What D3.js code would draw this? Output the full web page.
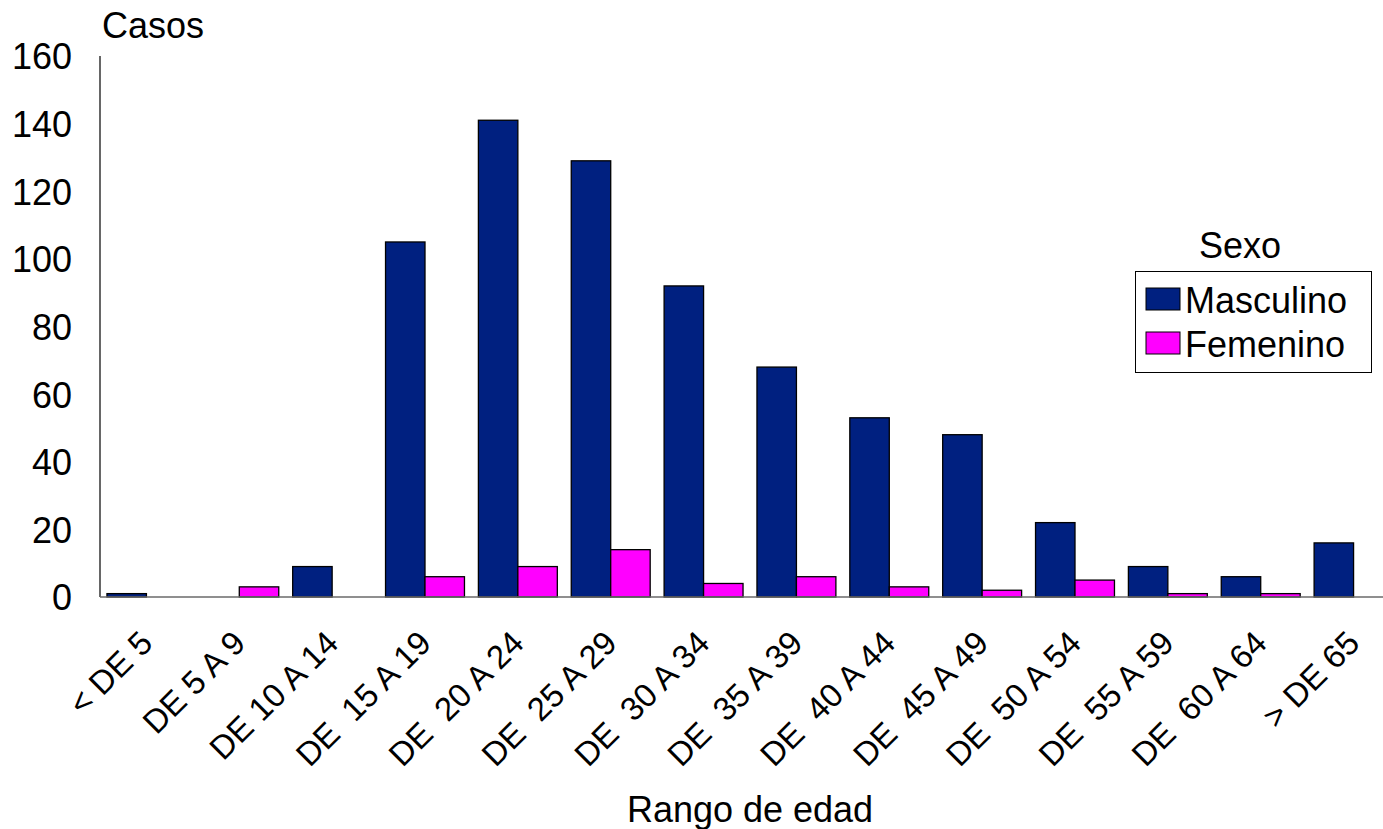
<!DOCTYPE html>
<html>
<head>
<meta charset="utf-8">
<script src="https://cdn.jsdelivr.net/npm/d3@7"></script>
<style>
  html, body { margin: 0; padding: 0; background: #fff; }
  svg { display: block; }
  text { font-family: "Liberation Sans", Arial, sans-serif; fill: #000; }
</style>
</head>
<body>
<svg id="chart" width="1383" height="829"></svg>
<script>
const categories = ["< DE 5", "DE 5 A 9", "DE 10 A 14", "DE  15 A 19", "DE  20 A 24", "DE  25 A 29",
  "DE  30 A 34", "DE  35 A 39", "DE  40 A 44", "DE  45 A 49", "DE  50 A 54", "DE  55 A 59",
  "DE  60 A 64", "> DE 65"];
const seriesNames = ["Masculino", "Femenino"];
const masculino = [1, 0, 9, 105, 141, 129, 92, 68, 53, 48, 22, 9, 6, 16];
const femenino  = [0, 3, 0, 6, 9, 14, 4, 6, 3, 2, 5, 1, 1, 0];
const yTicks = [0, 20, 40, 60, 80, 100, 120, 140, 160];
const colors = ["#002080", "#FF00FF"];

const svg = d3.select("#chart");
const plot = { left: 100, right: 1400, top: 56, bottom: 597 };

const x = d3.scaleBand().domain(categories).range([plot.left, plot.right])
  .paddingInner(0.15).paddingOuter(0.075);
const xs = d3.scaleBand().domain(seriesNames).range([0, x.bandwidth()]).padding(0);
const y = d3.scaleLinear().domain([0, 160]).range([plot.bottom, plot.top]);

const values = [masculino, femenino];

// bars
seriesNames.forEach((s, si) => {
  svg.append("g").selectAll("rect")
    .data(categories.map((c, i) => ({ c, v: values[si][i] })).filter(d => d.v > 0))
    .join("rect")
    .attr("x", d => x(d.c) + xs(s))
    .attr("y", d => y(d.v))
    .attr("width", xs.bandwidth())
    .attr("height", d => y(0) - y(d.v))
    .attr("fill", colors[si])
    .attr("stroke", "#000")
    .attr("stroke-width", 1.3);
});

// y axis
const yAxis = d3.axisLeft(y).tickValues(yTicks).tickSize(0).tickPadding(0).tickFormat(d3.format("d"));
const gy = svg.append("g").attr("transform", `translate(${plot.left},0)`).call(yAxis);
gy.select(".domain").attr("stroke", "#000").attr("stroke-width", 1.2)
  .attr("d", `M0,${plot.top}V${plot.bottom}`);
gy.selectAll("text").attr("font-size", 36).attr("x", -28).attr("dy", "0.36em")
  .attr("text-anchor", "end").style("font-family", '"Liberation Sans", Arial, sans-serif');

// x axis baseline
svg.append("line").attr("x1", plot.left).attr("x2", 1383)
  .attr("y1", y(0)).attr("y2", y(0)).attr("stroke", "#6a6a6a").attr("stroke-width", 1.5);

// x labels rotated
const gx = svg.append("g");
gx.selectAll("text").data(categories).join("text")
  .attr("transform", d => `translate(${x(d) + x.bandwidth() / 2 + 8},645) rotate(-45)`)
  .attr("text-anchor", "end")
  .attr("font-size", 33)
  .style("white-space", "pre")
  .attr("xml:space", "preserve")
  .text(d => d);

// titles
svg.append("text").attr("x", 102).attr("y", 38).attr("font-size", 36).text("Casos");
svg.append("text").attr("x", 750).attr("y", 822).attr("text-anchor", "middle")
  .attr("font-size", 36).text("Rango de edad");

// legend
const lg = svg.append("g");
lg.append("text").attr("x", 1240).attr("y", 258).attr("text-anchor", "middle")
  .attr("font-size", 36).text("Sexo");
lg.append("rect").attr("x", 1135.5).attr("y", 271.5).attr("width", 236).attr("height", 101)
  .attr("fill", "#fff").attr("stroke", "#000").attr("stroke-width", 1);
seriesNames.forEach((s, i) => {
  lg.append("rect").attr("x", 1146).attr("y", 288 + i * 44).attr("width", 34).attr("height", 22)
    .attr("fill", colors[i]).attr("stroke", "#000").attr("stroke-width", 1);
  lg.append("text").attr("x", 1185).attr("y", 312.5 + i * 44).attr("font-size", 36).text(s);
});
</script>
</body>
</html>
